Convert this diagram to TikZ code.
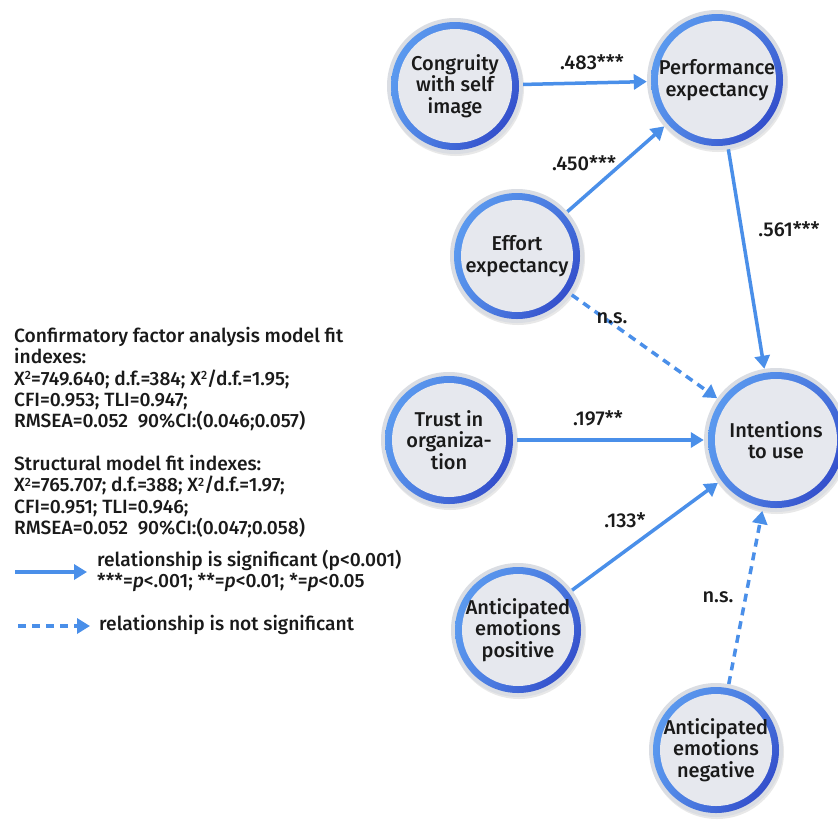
\documentclass[tikz,border=0pt]{standalone}
\usepackage{fontspec}
\setmainfont{Fira Sans}[BoldFont={Fira Sans Medium}, BoldItalicFont={Fira Sans Medium Italic}]
\usetikzlibrary{arrows.meta,shadows,shadings}
\definecolor{arrowblue}{HTML}{4A8FE9}
\definecolor{ringA}{HTML}{5FA2F3}
\definecolor{ringB}{HTML}{2737C0}
\definecolor{rimgray}{HTML}{DADDE3}
\definecolor{innergray}{HTML}{E6E8EE}
\definecolor{txt}{HTML}{1A1A1A}
\newcommand{\sqr}{\raisebox{0.3em}{\fontsize{12}{12}\selectfont 2}}
\tikzset{
  bubble/.style={circle, minimum size=#1, inner sep=0pt, align=center, fill=rimgray,
    text=txt, font=\fontsize{20}{21.5}\selectfont\bfseries,
    drop shadow={opacity=0.18, shadow xshift=1pt, shadow yshift=-2pt},
    path picture={
      \shade[upper left=ringA, lower left=ringA!85!ringB, upper right=ringA!60!ringB, lower right=ringB]
        (path picture bounding box.center) circle (#1/2-4pt);
      \fill[innergray] (path picture bounding box.center) circle (#1/2-11pt);
    }},
  sig/.style={draw=arrowblue, line width=3.5pt, -{Triangle[length=13pt,width=15pt]}},
  nsig/.style={sig, dash pattern=on 8pt off 6pt},
  lab/.style={font=\fontsize{20}{20}\selectfont\bfseries, text=txt},
  info/.style={font=\fontsize{19.2}{21.3}\selectfont\bfseries, text=txt, align=left, inner sep=0pt}
}
\begin{document}
\begin{tikzpicture}[x=1pt,y=-1pt]
\useasboundingbox[fill=white] (0,0) rectangle (838,820);
% nodes
\node[bubble=136pt] (cong) at (455,86) {Congruity\\with self\\image};
\node[bubble=140pt] (perf) at (717,80) {Performance\\expectancy};
\node[bubble=134pt] (eff) at (517,256) {Effort\\expectancy};
\node[bubble=136pt] (trust) at (449,440) {Trust in\\organiza-\\tion};
\node[bubble=144pt] (int) at (776,440) {Intentions\\to use};
\node[bubble=134pt] (pos) at (518,630) {Anticipated\\emotions\\positive};
\node[bubble=134pt] (neg) at (716,750) {Anticipated\\emotions\\negative};
% connectors
\draw[sig] (cong) -- (perf);
\draw[sig] (eff) -- (perf);
\draw[sig] (perf) -- (int);
\draw[nsig] (eff) -- (int);
\draw[sig] (trust) -- (int);
\draw[sig] (pos) -- (int);
\draw[nsig] (neg) -- (int);
% labels
\node[lab] (l1) at (592,62) {.483***};
\node[lab] (l2) at (584,163) {.450***};
\node[lab] (l3) at (789,229) {.561***};
\node[lab] (l4) at (612,318) {n.s.};
\node[lab] (l5) at (598,418) {.197**};
\node[lab] (l6) at (625,520) {.133*};
\node[lab] (l7) at (718,597) {n.s.};
% fit text
\node[info, anchor=north west] (cfa) at (14,327) {Confirmatory factor analysis model fit\\indexes:\\X\sqr=749.640; d.f.=384; X\sqr/d.f.=1.95;\\CFI=0.953; TLI=0.947;\\RMSEA=0.052\ \ 90\%CI:(0.046;0.057)};
\node[info, anchor=north west] (sem) at (14,455) {Structural model fit indexes:\\X\sqr=765.707; d.f.=388; X\sqr/d.f.=1.97;\\CFI=0.951; TLI=0.946;\\RMSEA=0.052\ \ 90\%CI:(0.047;0.058)};
% legend
\coordinate (a1) at (15,572);
\coordinate (a2) at (87,572);
\draw[sig] (a1) -- (a2);
\node[info, anchor=west] (leg1) at (97,571) {relationship is significant (p<0.001)\\***=\textit{p}<.001; **=\textit{p}<0.01; *=\textit{p}<0.05};
\coordinate (b1) at (18,626);
\coordinate (b2) at (90,626);
\draw[nsig] (b1) -- (b2);
\node[info, anchor=west] (leg2) at (99,625) {relationship is not significant};
\end{tikzpicture}
\end{document}
